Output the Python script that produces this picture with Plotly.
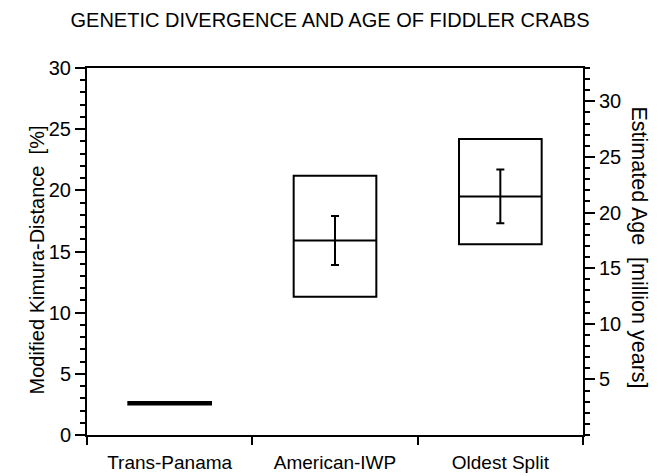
import plotly.graph_objects as go

categories = ["Trans-Panama", "American-IWP", "Oldest Split"]
box_low = [2.5, 11.3, 15.6]
box_high = [2.7, 21.2, 24.2]
median = [2.6, 15.9, 19.5]
err_center = [None, 15.9, 19.5]
err_half = [None, 2.0, 2.2]
left_ticks = [0, 5, 10, 15, 20, 25, 30]
right_ticks = [5, 10, 15, 20, 25, 30]
age_per_percent = 1.1

FONT = "Liberation Sans, Arial, Helvetica, sans-serif"
xc = [i + 0.5 for i in range(len(categories))]
half_w = 0.25

fig = go.Figure()

# boxes
fig.add_trace(go.Bar(
    x=xc, y=[h - l for h, l in zip(box_high, box_low)], base=box_low,
    width=0.5, marker=dict(color="white", line=dict(color="black", width=2)),
    showlegend=False, hoverinfo="skip"))

# medians
for x, m in zip(xc, median):
    fig.add_trace(go.Scatter(x=[x - half_w, x + half_w], y=[m, m], mode="lines",
                             line=dict(color="black", width=2), showlegend=False))

# error bars
ex = [x for x, c in zip(xc, err_center) if c is not None]
ey = [c for c in err_center if c is not None]
eh = [h for h in err_half if h is not None]
fig.add_trace(go.Scatter(x=ex, y=ey, mode="markers", marker=dict(size=0.1, color="black"),
                         error_y=dict(type="data", array=eh, visible=True, color="black",
                                      thickness=2, width=4),
                         showlegend=False))

# dummy trace for right axis
fig.add_trace(go.Scatter(x=[None], y=[None], yaxis="y2", showlegend=False))

fig.update_layout(
    width=660, height=476,
    margin=dict(l=87, r=77, t=68, b=41, autoexpand=False),
    paper_bgcolor="white", plot_bgcolor="white",
    font=dict(family=FONT, color="black", size=20),
    title=dict(text="GENETIC DIVERGENCE AND AGE OF FIDDLER CRABS", x=0.5, xanchor="center",
               y=1 - 20 / 476, yanchor="middle", yref="container",
               font=dict(size=20, family=FONT, color="black")),
    xaxis=dict(range=[0, 3], tickvals=xc, ticktext=categories, ticks="",
               showline=True, linecolor="black", linewidth=2, mirror=True,
               showgrid=False, zeroline=False, ticklabelstandoff=9, automargin=False,
               minor=dict(tickvals=[0, 1, 2, 3], ticks="outside", ticklen=8,
                          tickwidth=2, tickcolor="black"),
               tickfont=dict(size=19)),
    yaxis=dict(range=[0, 30], tickvals=left_ticks, ticks="outside", ticklen=10,
               tickwidth=2, tickcolor="black", showline=True, linecolor="black",
               linewidth=2, showgrid=False, zeroline=False, automargin=False,
               minor=dict(dtick=1, ticks="outside", ticklen=5, tickwidth=1.5,
                          tickcolor="black"),
               tickfont=dict(size=20)),
    yaxis2=dict(range=[0, 30 * age_per_percent], overlaying="y", side="right",
                tickvals=right_ticks, ticks="outside", ticklen=10, tickwidth=2,
                tickcolor="black", showline=True, linecolor="black", linewidth=2,
                showgrid=False, zeroline=False, automargin=False,
                minor=dict(dtick=1, ticks="outside", ticklen=5, tickwidth=1.5,
                           tickcolor="black"),
                tickfont=dict(size=20)),
    annotations=[
        dict(text="Modified Kimura-Distance\u00a0\u00a0[%]", x=0, y=0.5, xref="paper",
             yref="paper", xanchor="center", yanchor="middle", xshift=-51, yshift=-9,
             textangle=-90, showarrow=False, font=dict(size=20, family=FONT)),
        dict(text="Estimated Age\u00a0\u00a0[million years]", x=1, y=0.5, xref="paper",
             yref="paper", xanchor="center", yanchor="middle", xshift=56, yshift=4,
             textangle=90, showarrow=False, font=dict(size=21.5, family=FONT)),
    ],
)

fig.write_html("out.html", config={"displayModeBar": False},
               post_script="document.body.style.margin='0';")
